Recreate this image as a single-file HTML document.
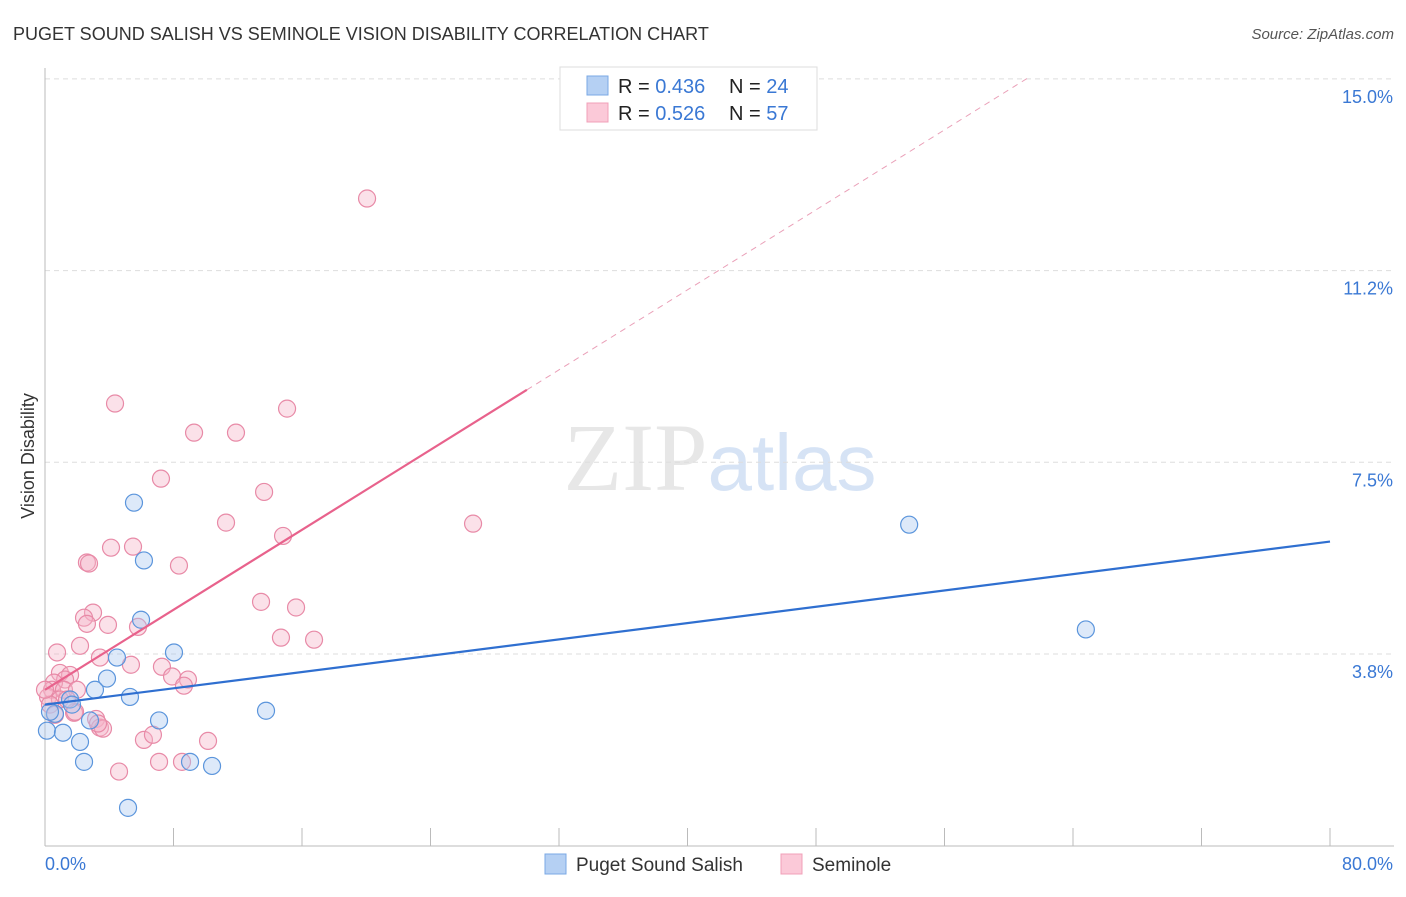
<!DOCTYPE html>
<html><head><meta charset="utf-8"><style>
body{margin:0;background:#fff;font-family:"Liberation Sans",sans-serif;}
</style></head><body>
<svg id="chart" width="1406" height="892" xmlns="http://www.w3.org/2000/svg" font-family="Liberation Sans, sans-serif">
<text x="13" y="40" font-size="18" fill="#333">PUGET SOUND SALISH VS SEMINOLE VISION DISABILITY CORRELATION CHART</text>
<text x="1394" y="39" font-size="15" fill="#555" text-anchor="end" font-style="italic">Source: ZipAtlas.com</text>
<text x="720" y="490" font-size="96" text-anchor="middle" fill="#d8d8d8" opacity="0.6"><tspan font-family="Liberation Serif, serif">ZIP</tspan><tspan fill="#bcd2f0" font-size="80">atlas</tspan></text>
<text transform="translate(34,456) rotate(-90)" font-size="18" fill="#333" text-anchor="middle">Vision Disability</text>
<g id="grid"></g><g id="marks"></g><g id="lines"></g>
<g>
<rect x="560" y="67" width="257" height="63" fill="#fff" stroke="#ddd"/>
<rect x="587" y="76" width="21" height="19" fill="#b5d0f3" stroke="#7aa8e4"/>
<rect x="587" y="103" width="21" height="19" fill="#fbc9d8" stroke="#f0a0b8"/>
<text x="618" y="93" font-size="20" fill="#222">R = <tspan fill="#3a78d4">0.436</tspan></text>
<text x="729" y="93" font-size="20" fill="#222">N = <tspan fill="#3a78d4">24</tspan></text>
<text x="618" y="120" font-size="20" fill="#222">R = <tspan fill="#3a78d4">0.526</tspan></text>
<text x="729" y="120" font-size="20" fill="#222">N = <tspan fill="#3a78d4">57</tspan></text>
</g>
<g>
<rect x="545" y="854" width="21" height="20" fill="#b5d0f3" stroke="#7aa8e4"/>
<text x="576" y="871" font-size="19" fill="#333">Puget Sound Salish</text>
<rect x="781" y="854" width="21" height="20" fill="#fbc9d8" stroke="#f0a0b8"/>
<text x="812" y="871" font-size="19" fill="#333">Seminole</text>
</g>
</svg>
<script>
const yTicks=[3.75,7.5,11.25,15];
const yTickLabels=["3.8%","7.5%","11.2%","15.0%"];
const xTickVals=[0,8,16,24,32,40,48,56,64,72,80];
const blueX=[5.54,6.16,5.98,8.03,4.48,3.86,3.11,5.29,1.56,0.62,0.31,0.12,1.12,2.80,7.10,2.18,2.43,9.03,10.40,5.17,13.76,53.8,64.8,1.68];
const blueY=[6.71,5.58,4.42,3.78,3.68,3.27,3.05,2.91,2.86,2.58,2.62,2.25,2.21,2.45,2.45,2.03,1.64,1.64,1.56,0.74,2.64,6.28,4.23,2.76];
const pinkX=[20.05,4.36,15.07,9.28,11.89,7.22,13.64,11.27,26.65,14.82,4.11,5.48,2.61,2.74,8.34,13.45,15.63,2.99,2.43,2.61,3.92,5.79,14.69,16.75,2.18,0.75,3.42,5.35,7.28,7.91,8.90,8.65,0.93,1.56,1.25,0.56,0.44,1.18,1.99,0.19,0.93,1.81,3.18,3.42,3.61,6.16,6.72,10.15,7.10,8.53,4.61,3.30,0.31,0.62,0,1.87,1.37];
const pinkY=[12.66,8.65,8.55,8.08,8.08,7.18,6.92,6.32,6.30,6.06,5.83,5.85,5.54,5.52,5.48,4.77,4.66,4.56,4.46,4.34,4.32,4.28,4.07,4.03,3.91,3.78,3.68,3.54,3.50,3.31,3.25,3.13,3.38,3.34,3.25,3.19,3.05,3.05,3.05,2.91,2.86,2.60,2.48,2.31,2.29,2.07,2.17,2.05,1.64,1.64,1.45,2.39,2.76,2.56,3.05,2.62,2.86];
const blueTrend=[2.76,5.95];
const pinkTrend=[3.05,15.02,61.2];
const pinkSolidEnd=30.0;

const NS="http://www.w3.org/2000/svg";
const X=v=>45+v/80*1285;
const Y=v=>845.7-v/3.75*191.7;
function mk(t,a,p){const e=document.createElementNS(NS,t);for(const k in a)e.setAttribute(k,a[k]);p.appendChild(e);return e;}
const grid=document.getElementById('grid'),marks=document.getElementById('marks'),lines=document.getElementById('lines');
yTicks.forEach((t,i)=>{
 const l=mk('line',{x1:45,x2:1394,y1:Y(t),y2:Y(t),stroke:'#ddd','stroke-dasharray':'5,4'},grid);
 
 
 const tx=mk('text',{x:1393,y:Y(t)+24,'font-size':18,fill:'#3a78d4','text-anchor':'end'},grid);
 tx.textContent=yTickLabels[i];
 
 
});
const ax=mk('line',{x1:45,x2:45,y1:68,y2:846,stroke:'#bbb'},grid);


const bx=mk('line',{x1:45,x2:1394,y1:846,y2:846,stroke:'#bbb'},grid);


xTickVals.forEach(v=>{
 const t=mk('line',{x1:X(v),x2:X(v),y1:828,y2:846,stroke:'#bbb'},grid);
 
 
});
const xl0=mk('text',{x:45,y:870,'font-size':18,fill:'#3a78d4'},grid);xl0.textContent="0.0%";


const xl1=mk('text',{x:1393,y:870,'font-size':18,fill:'#3a78d4','text-anchor':'end'},grid);xl1.textContent="80.0%";


function pts(xs,ys,fill,stroke,name){xs.forEach((x,i)=>{
 const c=mk('circle',{cx:X(x),cy:Y(ys[i]),r:8.5,fill:fill,'fill-opacity':0.4,stroke:stroke,'stroke-width':1.2},marks);
 
 
});}
pts(pinkX,pinkY,'#f6b3c7','#e88aa7','seminole-point');
pts(blueX,blueY,'#a9c8f0','#5b95dc','puget-sound-salish-point');
const bl=mk('line',{x1:X(0),y1:Y(blueTrend[0]),x2:X(80),y2:Y(blueTrend[1]),stroke:'#2f6fd0','stroke-width':2.2},lines);


const slope=(pinkTrend[1]-pinkTrend[0])/pinkTrend[2];
const pyAt=x=>pinkTrend[0]+slope*x;
const ps=mk('line',{x1:X(0),y1:Y(pyAt(0)),x2:X(pinkSolidEnd),y2:Y(pyAt(pinkSolidEnd)),stroke:'#e8628c','stroke-width':2.2},lines);


const pd=mk('line',{x1:X(pinkSolidEnd),y1:Y(pyAt(pinkSolidEnd)),x2:X(pinkTrend[2]),y2:Y(pinkTrend[1]),stroke:'#eaa0b8','stroke-width':1,'stroke-dasharray':'6,5'},lines);


</script>
</body></html>
